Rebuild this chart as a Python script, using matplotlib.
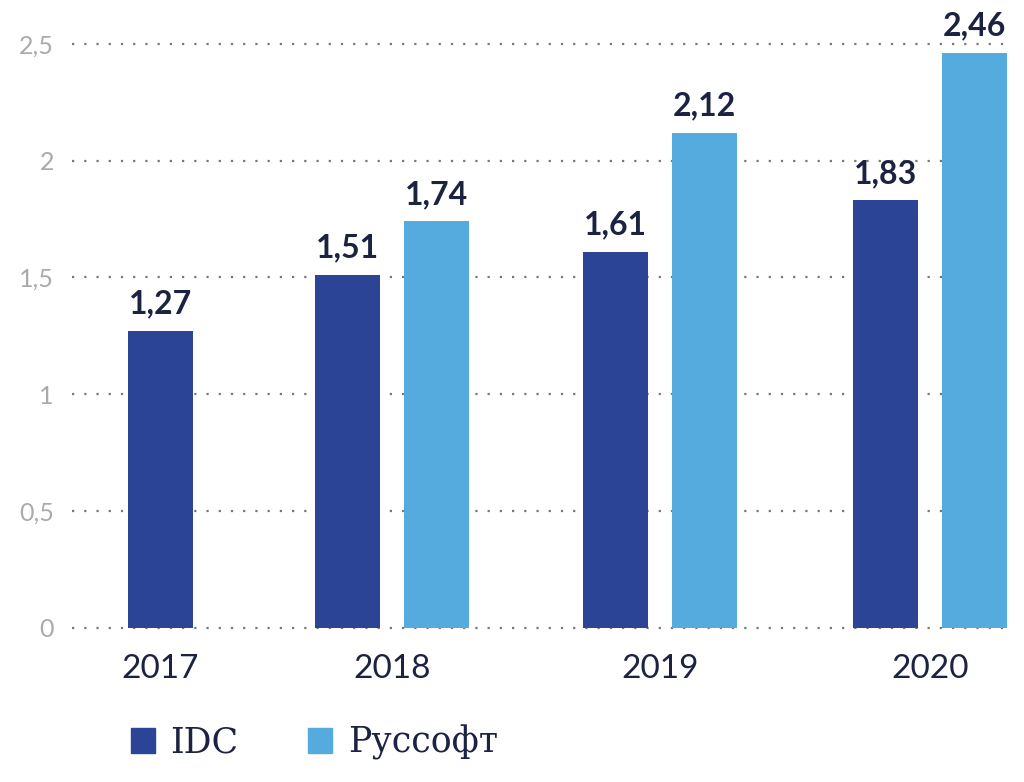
import numpy as np
import matplotlib.pyplot as plt
from matplotlib.patches import Patch

# данные
years = ['2017', '2018', '2019', '2020']
idc = [1.27, 1.51, 1.61, 1.83]
russoft = [np.nan, 1.74, 2.12, 2.46]
y_ticks = [0, 0.5, 1, 1.5, 2, 2.5]
y_labels = ['0', '0,5', '1', '1,5', '2', '2,5']

c_idc = '#2b4496'
c_rus = '#55abde'
c_text = '#1c2340'

fig = plt.figure(figsize=(10.24, 7.82), dpi=100)
ax = fig.add_axes([0.0703, 0.197, 0.916, 0.747])

# позиции групп (2017 - только один столбец, по центру)
centers = np.array([0.138, 1.0, 1.996, 3.0])
w = 0.242
off = 0.166

for i in range(len(years)):
    if np.isnan(russoft[i]):
        xs = [centers[i]]
        vals = [(idc[i], c_idc)]
    else:
        xs = [centers[i] - off, centers[i] + off]
        vals = [(idc[i], c_idc), (russoft[i], c_rus)]
    for x, (v, c) in zip(xs, vals):
        ax.bar(x, v, width=w, color=c, zorder=3)
        ax.annotate(f'{v:.2f}'.replace('.', ','), (x, v), xytext=(0, 9),
                    textcoords='offset points', ha='center', va='bottom',
                    fontsize=23, fontweight='bold', color=c_text,
                    family='Lato', annotation_clip=False)

ax.set_xlim(-0.19, 3.297)
ax.set_ylim(0, 2.5)
ax.set_yticks(y_ticks)
ax.set_yticklabels(y_labels, fontsize=18, color='#aaaaaa', family='Lato')
ax.set_xticks(centers)
ax.set_xticklabels(years, fontsize=24, color=c_text, family='Lato')
ax.tick_params(axis='both', length=0)
ax.tick_params(axis='y', pad=13)
ax.tick_params(axis='x', pad=19)

for s in ax.spines.values():
    s.set_visible(False)
ax.set_axisbelow(True)
for t in y_ticks:
    ax.axhline(t, color='#777777', linestyle=(0, (1, 4.5)), linewidth=1.6, zorder=0, clip_on=False)

handles = [Patch(color=c_idc, label='IDC'), Patch(color=c_rus, label='Руссофт')]
leg = fig.legend(handles=handles, loc='lower left', bbox_to_anchor=(0.097, -0.012), ncol=2,
                 frameon=False, handlelength=0.7, handleheight=0.7, handletextpad=0.45,
                 columnspacing=2.0, prop={'family': 'DejaVu Serif', 'size': 25})
for t in leg.get_texts():
    t.set_color(c_text)

fig.savefig('out.png', dpi=100, facecolor='white')
